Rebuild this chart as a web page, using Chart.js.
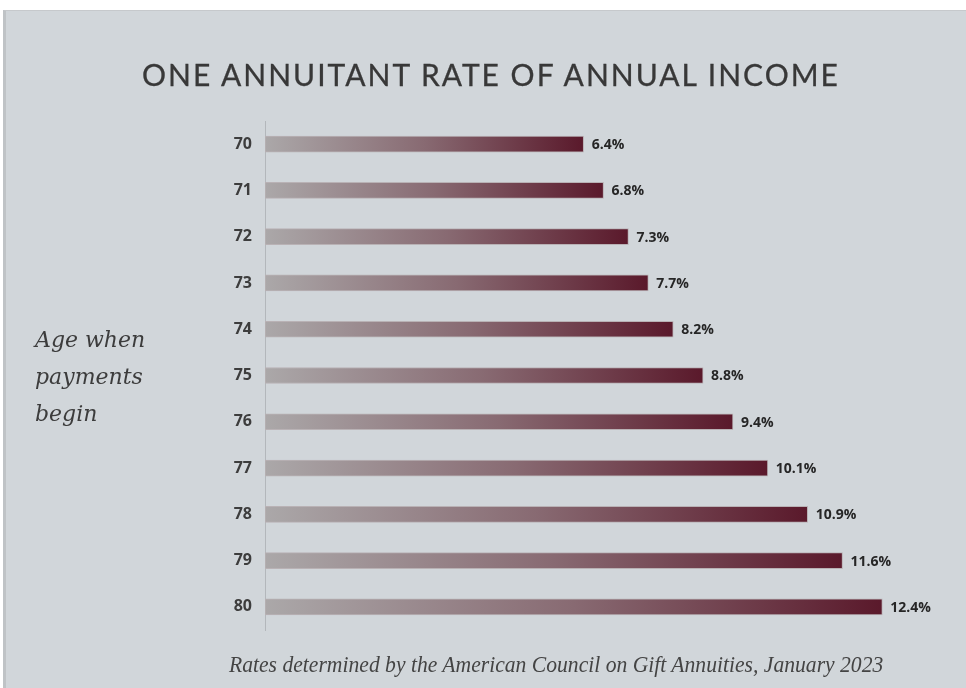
<!DOCTYPE html>
<html lang="en">
<head>
    <meta charset="UTF-8">
    <title>One Annuitant Rate of Annual Income</title>
    <script src="https://cdn.jsdelivr.net/npm/chart.js"></script>
    <style>
        html, body { margin: 0; padding: 0; }
        body { width: 966px; height: 688px; background: #ffffff; position: relative; overflow: hidden; }
        #panel {
            position: absolute; left: 3px; top: 10px; width: 963px; height: 678px;
            background: #d1d6da; border-left: 3px solid #bfc3c6; border-top: 1px solid #c6c9cc;
        }
        #title {
            position: absolute; left: 0; width: 982px; top: 56px; text-align: center;
            font-family: Lato, sans-serif; font-size: 30px; color: #383838; letter-spacing: 2px;
            -webkit-text-stroke: 0.3px #383838;
        }
        #sideLabel {
            position: absolute; left: 35px; top: 321px;
            font-family: "DejaVu Serif", serif; font-style: italic; font-size: 22px; line-height: 37px; color: #3c3c3c;
        }
        #footer {
            position: absolute; left: 229px; top: 652px; white-space: nowrap;
            font-family: "Liberation Serif", serif; font-style: italic; font-size: 23px; color: #444444;
            transform: scaleX(0.94); transform-origin: left center;
        }
        #wrap { position: absolute; left: 0; top: 0; width: 966px; height: 688px; }
    </style>
</head>
<body>
    <div id="panel"></div>
    <div id="wrap"><canvas id="rateChart"></canvas></div>
    <div id="title">ONE ANNUITANT RATE OF ANNUAL INCOME</div>
    <div id="sideLabel">Age when<br>payments<br>begin</div>
    <div id="footer">Rates determined by the American Council on Gift Annuities, January 2023</div>

    <script>
        const ages = ['70', '71', '72', '73', '74', '75', '76', '77', '78', '79', '80'];
        const rates = [6.4, 6.8, 7.3, 7.7, 8.2, 8.8, 9.4, 10.1, 10.9, 11.6, 12.4];

        // gradient grey -> maroon along each bar
        function barGradient(context) {
            const chart = context.chart;
            if (!chart.chartArea || context.dataIndex === undefined) return '#7a4050';
            const x = chart.scales.x;
            const x0 = x.getPixelForValue(0);
            const x1 = x.getPixelForValue(rates[context.dataIndex]);
            const g = chart.ctx.createLinearGradient(x0, 0, x1, 0);
            g.addColorStop(0, '#aba8a9');
            g.addColorStop(0.5, '#886a72');
            g.addColorStop(1, '#5a192b');
            return g;
        }

        const valueLabels = {
            id: 'valueLabels',
            afterDatasetsDraw(chart) {
                const ctx = chart.ctx;
                const meta = chart.getDatasetMeta(0);
                ctx.save();
                ctx.font = 'bold 14px "Open Sans", sans-serif';
                ctx.fillStyle = '#262626';
                ctx.textAlign = 'left';
                ctx.textBaseline = 'middle';
                meta.data.forEach((bar, i) => {
                    ctx.fillText(rates[i].toFixed(1) + '%', bar.x + 8, bar.y + 1);
                });
                ctx.restore();
            }
        };

        const ctx = document.getElementById('rateChart').getContext('2d');
        const rateChart = new Chart(ctx, {
            type: 'bar',
            data: {
                labels: ages,
                datasets: [{
                    data: rates,
                    backgroundColor: barGradient,
                    borderColor: '#b9b2b5',
                    borderWidth: 1,
                    borderSkipped: false,
                    barThickness: 16
                }]
            },
            options: {
                indexAxis: 'y',
                responsive: true,
                maintainAspectRatio: false,
                animation: false,
                layout: { padding: { top: 121, bottom: 58, left: 0, right: 4 } },
                plugins: {
                    legend: { display: false },
                    tooltip: { enabled: false }
                },
                scales: {
                    x: {
                        display: false,
                        min: 0,
                        max: 14
                    },
                    y: {
                        afterFit(scale) { scale.width = 265; },
                        grid: { display: false, drawTicks: false },
                        border: { display: true, color: '#b3b7bb', width: 1 },
                        ticks: {
                            padding: 13,
                            color: '#3d3d3d',
                            font: { family: '"Open Sans", sans-serif', size: 16, weight: 'bold' }
                        }
                    }
                }
            },
            plugins: [valueLabels]
        });
    </script>
</body>
</html>
